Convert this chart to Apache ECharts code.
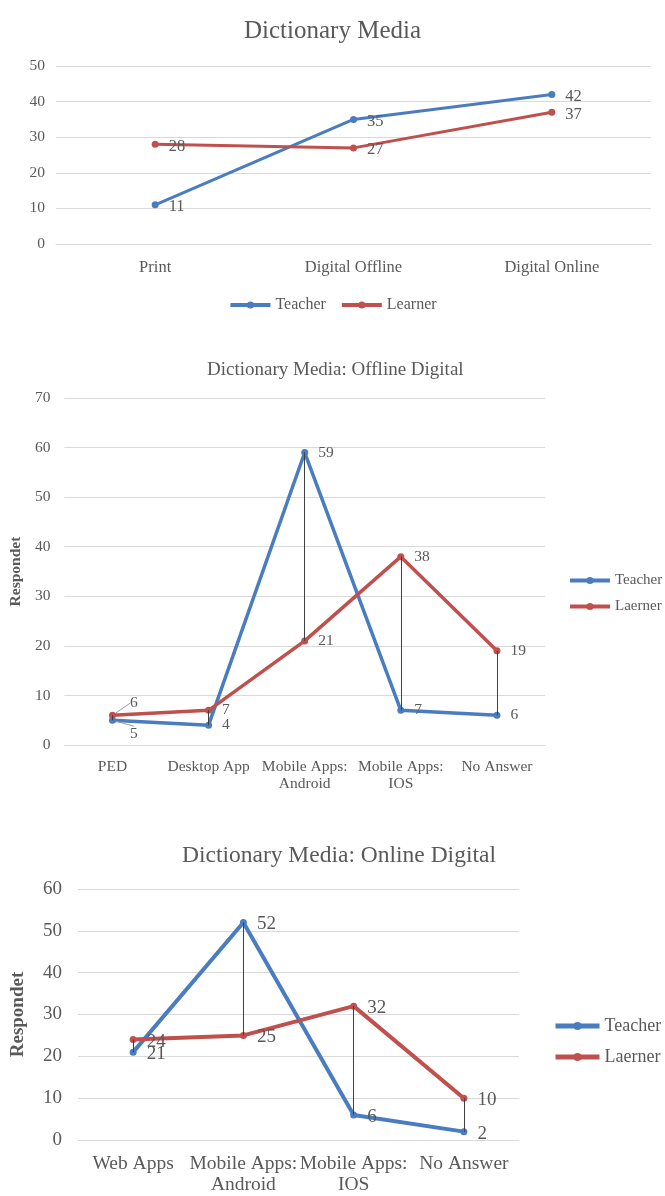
<!DOCTYPE html>
<html>
<head>
<meta charset="utf-8">
<script src="https://cdn.jsdelivr.net/npm/echarts@6/dist/echarts.min.js"></script>
<style>
  html, body { margin: 0; padding: 0; background: #fff; }
  #chart { width: 665px; height: 1196px; }
</style>
</head>
<body>
<div id="chart"></div>
<script>
// chart 1: Dictionary Media
const mediaCats = ['Print', 'Digital Offline', 'Digital Online']
const mediaTeacher = [11, 35, 42]
const mediaLearner = [28, 27, 37]

// chart 2: Offline Digital
const offlineCats = ['PED', 'Desktop App', 'Mobile Apps:\nAndroid', 'Mobile Apps:\nIOS', 'No Answer']
const offlineTeacher = [5, 4, 59, 7, 6]
const offlineLearner = [6, 7, 21, 38, 19]

// chart 3: Online Digital
const onlineCats = ['Web Apps', 'Mobile Apps:\nAndroid', 'Mobile Apps:\nIOS', 'No Answer']
const onlineTeacher = [21, 52, 6, 2]
const onlineLearner = [24, 25, 32, 10]

const BLUE = '#4a7cc0'
const RED = '#c0504d'
const TEXT = '#595959'
const FONT = "'Liberation Serif', serif"

// high-low lines between the two series
function dropLines(a, b) {
  return a.map((v, i) => [
    { coord: [i, Math.max(v, b[i])] },
    { coord: [i, Math.min(v, b[i])] }
  ])
}

// leader line only on the first point (PED labels are pushed aside)
function withLeader(arr) {
  return arr.map((v, i) => i === 0 ? { value: v, labelLine: { show: true, lineStyle: { color: '#999' } } } : v)
}

function xAxis(idx, data, size, margin) {
  return {
    gridIndex: idx,
    type: 'category',
    data: data,
    axisLine: { lineStyle: { color: '#d9d9d9' } },
    axisTick: { show: false },
    axisLabel: { color: TEXT, fontFamily: FONT, fontSize: size, margin: margin, lineHeight: size + 2, interval: 0 }
  }
}

function yAxis(idx, max, size, margin, name, gap) {
  return {
    gridIndex: idx,
    type: 'value',
    min: 0,
    max: max,
    interval: 10,
    name: name,
    nameLocation: 'middle',
    nameRotate: 90,
    nameGap: gap,
    nameTextStyle: { color: TEXT, fontFamily: FONT, fontSize: size, fontWeight: 'bold' },
    axisLabel: { color: TEXT, fontFamily: FONT, fontSize: size, margin: margin },
    splitLine: { lineStyle: { color: '#d9d9d9' } }
  }
}

function lineSeries(name, idx, data, color, width, size, extra) {
  return Object.assign({
    name: name,
    type: 'line',
    xAxisIndex: idx,
    yAxisIndex: idx,
    data: data,
    symbol: 'circle',
    symbolSize: 7,
    color: color,
    lineStyle: { width: width, color: color },
    label: { show: true, position: 'right', distance: 10, color: TEXT, fontFamily: FONT, fontSize: size, offset: [0, 2] }
  }, extra || {})
}

const myChart = echarts.init(document.getElementById('chart'))

const option = {
  animation: false,
  title: [
    { text: 'Dictionary Media', left: 'center', top: 14, textStyle: { color: TEXT, fontFamily: FONT, fontSize: 25, fontWeight: 'normal' } },
    { text: 'Dictionary Media: Offline Digital', left: 202, top: 356, textStyle: { color: TEXT, fontFamily: FONT, fontSize: 19, fontWeight: 'normal' } },
    { text: 'Dictionary Media: Online Digital', left: 177, top: 839, textStyle: { color: TEXT, fontFamily: FONT, fontSize: 23.5, fontWeight: 'normal' } }
  ],
  legend: [
    {
      data: ['Teacher', 'Learner'],
      left: 'center', top: 292, itemWidth: 40, itemHeight: 9, itemGap: 14,
      lineStyle: { width: 4 },
      textStyle: { color: TEXT, fontFamily: FONT, fontSize: 16 }
    },
    {
      data: ['Teacher', 'Laerner'],
      orient: 'vertical', left: 563, top: 568, itemWidth: 40, itemHeight: 9, itemGap: 11,
      lineStyle: { width: 4 },
      textStyle: { color: TEXT, fontFamily: FONT, fontSize: 15 }
    },
    {
      data: [{ name: 'Teacher ' }, { name: 'Laerner ' }],
      orient: 'vertical', left: 548, top: 1012, itemWidth: 44, itemHeight: 10, itemGap: 13,
      lineStyle: { width: 5 },
      textStyle: { color: TEXT, fontFamily: FONT, fontSize: 18 }
    }
  ],
  grid: [
    { left: 56, width: 595, top: 66, height: 178 },
    { left: 64, width: 481, top: 398, height: 347 },
    { left: 78, width: 441, top: 889, height: 252 }
  ],
  xAxis: [
    xAxis(0, mediaCats, 16.5, 14),
    xAxis(1, offlineCats, 15.5, 13),
    xAxis(2, onlineCats, 19.5, 13)
  ],
  yAxis: [
    yAxis(0, 50, 15.5, 11, '', 0),
    yAxis(1, 70, 15.5, 14, 'Respondet', 40),
    yAxis(2, 60, 19, 16, 'Respondet', 50)
  ],
  series: [
    lineSeries('Teacher', 0, mediaTeacher, BLUE, 3, 16.5),
    lineSeries('Learner', 0, mediaLearner, RED, 3, 16.5),
    lineSeries('Teacher', 1, withLeader(offlineTeacher), BLUE, 3.5, 15.5, {
      markLine: {
        silent: true, symbol: 'none', label: { show: false },
        lineStyle: { color: '#404040', width: 1, type: 'solid' },
        data: dropLines(offlineTeacher, offlineLearner)
      },
      labelLayout: function (p) {
        if (p.dataIndex === 0) return { dx: 4, dy: 14 }
      }
    }),
    lineSeries('Laerner', 1, withLeader(offlineLearner), RED, 3.5, 15.5, {
      labelLayout: function (p) {
        if (p.dataIndex === 0) return { dx: 4, dy: -12 }
      }
    }),
    lineSeries('Teacher ', 2, onlineTeacher, BLUE, 4, 19, {
      markLine: {
        silent: true, symbol: 'none', label: { show: false },
        lineStyle: { color: '#404040', width: 1, type: 'solid' },
        data: dropLines(onlineTeacher, onlineLearner)
      }
    }),
    lineSeries('Laerner ', 2, onlineLearner, RED, 4, 19)
  ]
}

myChart.setOption(option)
</script>
</body>
</html>
